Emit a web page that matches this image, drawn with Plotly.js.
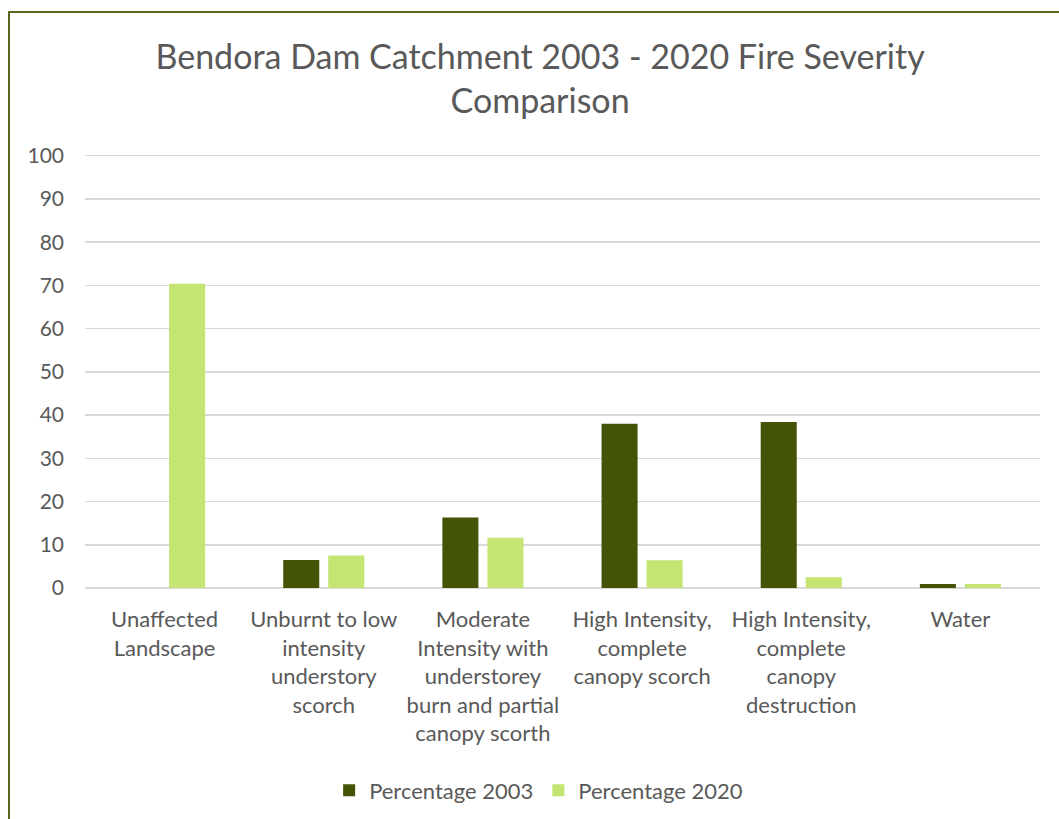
<!DOCTYPE html>
<html>
<head>
<meta charset="utf-8">
<script src="https://cdn.plot.ly/plotly-3.0.1.min.js"></script>
<style>
html,body{margin:0;padding:0;background:#fff;overflow:hidden;width:1059px;height:819px;}
#frame{position:absolute;left:8px;top:11px;width:1200px;height:1000px;border:2px solid #56691e;box-sizing:border-box;}
#chart{position:absolute;left:0;top:0;width:1059px;height:819px;}
</style>
</head>
<body>
<div id="frame"></div>
<div id="chart"></div>
<script>
const categories = [
  "Unaffected<br>Landscape",
  "Unburnt to low<br>intensity<br>understory<br>scorch",
  "Moderate<br>Intensity with<br>understorey<br>burn and partial<br>canopy scorth",
  "High Intensity,<br>complete<br>canopy scorch",
  "High Intensity,<br>complete<br>canopy<br>destruction",
  "Water"
];
const pct2003 = [0, 6.5, 16.3, 38.0, 38.4, 0.9];
const pct2020 = [70.4, 7.5, 11.6, 6.4, 2.5, 0.9];
const seriesNames = ["Percentage 2003", "Percentage 2020"];
const yTicks = [0, 10, 20, 30, 40, 50, 60, 70, 80, 90, 100];

const FONT = "Lato, 'Open Sans', sans-serif";
const GREY = "#595959";

const data = [
  {type: "bar", name: seriesNames[0], x: categories, y: pct2003, marker: {color: "#445406"}, hoverinfo: "y"},
  {type: "bar", name: seriesNames[1], x: categories, y: pct2020, marker: {color: "#c4e571"}, hoverinfo: "y"}
];

const layout = {
  width: 1059, height: 819,
  paper_bgcolor: "rgba(0,0,0,0)",
  plot_bgcolor: "rgba(0,0,0,0)",
  font: {family: FONT, color: GREY, size: 21},
  title: {
    text: "Bendora Dam Catchment 2003 - 2020 Fire Severity<br>Comparison",
    font: {family: FONT, size: 34, color: GREY},
    x: 0.51, xanchor: "center", yref: "container", y: 0.916, yanchor: "top"
  },
  margin: {l: 85, r: 19, t: 154, b: 231},
  barmode: "group",
  bargap: 0.434,
  bargroupgap: 0.2,
  xaxis: {
    tickfont: {family: FONT, size: 22, color: GREY},
    showgrid: false, zeroline: false, showline: false, ticks: "",
    ticklabelstandoff: 16,
    automargin: false,
    fixedrange: true
  },
  yaxis: {
    range: [0, 100.4],
    tickvals: yTicks,
    tickfont: {family: FONT, size: 21, color: GREY},
    gridcolor: "#d9d9d9", gridwidth: 1.5,
    zeroline: true, zerolinecolor: "#d9d9d9", zerolinewidth: 1.5,
    showline: false, ticks: "",
    ticklabelstandoff: 20,
    automargin: false,
    fixedrange: true
  },
  legend: {
    orientation: "h", x: 0.475, xanchor: "center",
    yref: "container", y: 0.035, yanchor: "middle",
    font: {family: FONT, size: 22, color: GREY},
    itemwidth: 30, traceorder: "normal"
  },
  showlegend: true
};

Plotly.newPlot("chart", data, layout, {displayModeBar: false, staticPlot: true});
</script>
</body>
</html>
